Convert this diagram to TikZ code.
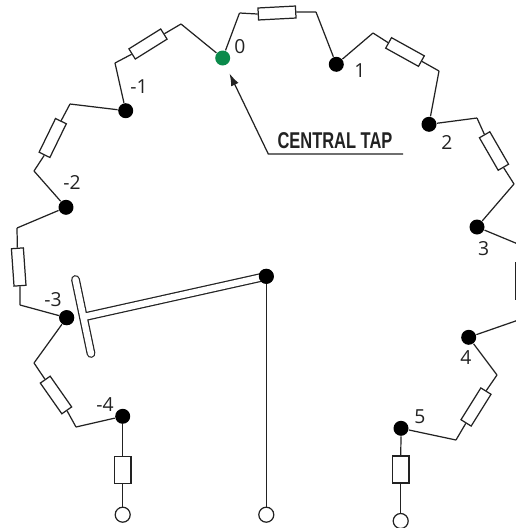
\documentclass[tikz,border=0pt]{standalone}
\usepackage{fontspec}
\usetikzlibrary{arrows.meta}
\setmainfont{Open Sans}
\newfontfamily\tapfont[FakeStretch=0.72]{Liberation Sans}
\definecolor{tapgreen}{HTML}{0B8A4B}
\definecolor{wirecol}{HTML}{222222}
\begin{document}
\begin{tikzpicture}[draw=wirecol, text=wirecol, x=0.02cm, y=-0.02cm, line width=0.7pt]
    \tikzstyle{every node}=[inner sep=0pt];
    \tikzstyle{tap}=[circle, fill=black, draw=none, minimum size=0.3cm];
    \tikzstyle{endpt}=[circle, fill=white, draw, minimum size=0.3cm];
    \tikzstyle{res}=[rectangle, fill=white, draw, minimum width=0.75cm, minimum height=0.24cm];
    \tikzstyle{vres}=[rectangle, fill=white, draw, minimum width=0.334cm, minimum height=0.54cm];
    \tikzstyle{num}=[font=\fontsize{11}{13}\selectfont];

    \useasboundingbox (0,0) rectangle (516,528);
    \clip (0,0) rectangle (516,528);

    % the taps
    \node at (222.7, 58)    (t0) [tap, fill=tapgreen] {};
    \node at (336.3, 64.3)  (t1) [tap] {};
    \node at (429, 124.3)   (t2) [tap] {};
    \node at (477, 227)     (t3) [tap] {};
    \node at (468.7, 337.3) (t4) [tap] {};
    \node at (401, 428.3)   (t5) [tap] {};
    \node at (125.7, 110.7) (m1) [tap] {};
    \node at (66, 207.3)    (m2) [tap] {};
    \node at (66.7, 317.7)  (m3) [tap] {};
    \node at (122.7, 416.3) (m4) [tap] {};
    \node at (266.3, 276.3) (w)  [tap] {};

    \node at (122.7, 514.7) (em) [endpt] {};
    \node at (266.3, 514.7) (ew) [endpt] {};
    \node at (400.7, 521)   (et) [endpt] {};

    % the numbers
    \node at (240, 47)    (n0)  [num] {0};
    \node at (360, 71)    (n1)  [num] {1};
    \node at (447, 142)   (n2)  [num] {2};
    \node at (483.7, 249) (n3)  [num] {3};
    \node at (466, 358)   (n4)  [num] {4};
    \node at (420, 417)   (n5)  [num] {5};
    \node at (139, 87)    (nm1) [num] {-1};
    \node at (72, 182)    (nm2) [num] {-2};
    \node at (53, 300)    (nm3) [num] {-3};
    \node at (105, 405)   (nm4) [num] {-4};

    % the resistors
    \node at (277, 13)    (r0) [res, rotate=3] {};
    \node at (405, 52)    (r1) [res, rotate=-29] {};
    \node at (494, 151)   (r2) [res, rotate=-60] {};
    \node at (521.5, 281) (r3) [res, rotate=-90] {};
    \node at (476, 407)   (r4) [res, rotate=58] {};
    \node at (148, 44)    (s0) [res, rotate=32] {};
    \node at (52.7, 138)  (s1) [res, rotate=64] {};
    \node at (18.7, 267)  (s2) [res, rotate=-86] {};
    \node at (56, 395)    (s3) [res, rotate=-55] {};
    \node at (122.7, 470) (vm) [vres] {};
    \node at (400.7, 469.5) (vt) [vres] {};

    % the bends
    \node at (239.5, 13)  (b0) {};
    \node at (316, 12)    (b1) {};
    \node at (373, 33)    (b2) {};
    \node at (439, 71)    (b3) {};
    \node at (477, 118)   (b4) {};
    \node at (514, 184)   (b5) {};
    \node at (530, 249)   (b6) {};
    \node at (530, 316)   (b7) {};
    \node at (497, 375)   (b8) {};
    \node at (456, 440)   (b9) {};
    \node at (181, 24)    (c0) {};
    \node at (115, 63)    (c1) {};
    \node at (70, 104)    (c2) {};
    \node at (34, 171)    (c3) {};
    \node at (17, 228)    (c4) {};
    \node at (20, 305)    (c5) {};
    \node at (34, 363)    (c6) {};
    \node at (76, 427)    (c7) {};

    \path (b0.center)
        edge (t0)
        edge (r0.west);
    \path (b1.center)
        edge (r0.east)
        edge (t1);
    \path (b2.center)
        edge (t1)
        edge (r1.west);
    \path (b3.center)
        edge (r1.east)
        edge (t2);
    \path (b4.center)
        edge (t2)
        edge (r2.west);
    \path (b5.center)
        edge (r2.east)
        edge (t3);
    \path (b6.center)
        edge (t3)
        edge (r3.west);
    \path (b7.center)
        edge (r3.east)
        edge (t4);
    \path (b8.center)
        edge (t4)
        edge (r4.east);
    \path (b9.center)
        edge (r4.west)
        edge (t5);
    \path (c0.center)
        edge (t0)
        edge (s0.east);
    \path (c1.center)
        edge (s0.west)
        edge (m1);
    \path (c2.center)
        edge (m1)
        edge (s1.east);
    \path (c3.center)
        edge (s1.west)
        edge (m2);
    \path (c4.center)
        edge (m2)
        edge (s2.west);
    \path (c5.center)
        edge (s2.east)
        edge (m3);
    \path (c6.center)
        edge (m3)
        edge (s3.west);
    \path (c7.center)
        edge (s3.east)
        edge (m4);
    \path (vm)
        edge (m4)
        edge (em);
    \path (vt)
        edge (t5)
        edge (et);
    \path (w) edge (ew);

    % the sliding contact
    \node at (75.5, 279.5) (h1) {};
    \node at (91, 353.5)   (h2) {};
    \node at (83.5, 317)   (h3) {};
    \draw[double=white, double distance=3.6pt, line cap=round]
        (h1.center) -- (h2.center) (h3.center) -- (w.center);
    \node at (266.3, 276.3) (wt) [tap] {};
    \node at (66.7, 317.7)  (mt) [tap] {};

    % the central tap text
    \node at (335, 141) (tt) [font=\tapfont\bfseries\fontsize{13}{15}\selectfont] {CENTRAL TAP};
    \node at (403, 154) (a1) {};
    \node at (268.3, 154) (a2) {};
    \node at (229.5, 73.5) (a3) {};
    \draw[-{Latex[length=7pt, width=4.6pt]}] (a1.center) -- (a2.center) -- (a3.center);
\end{tikzpicture}
\end{document}
